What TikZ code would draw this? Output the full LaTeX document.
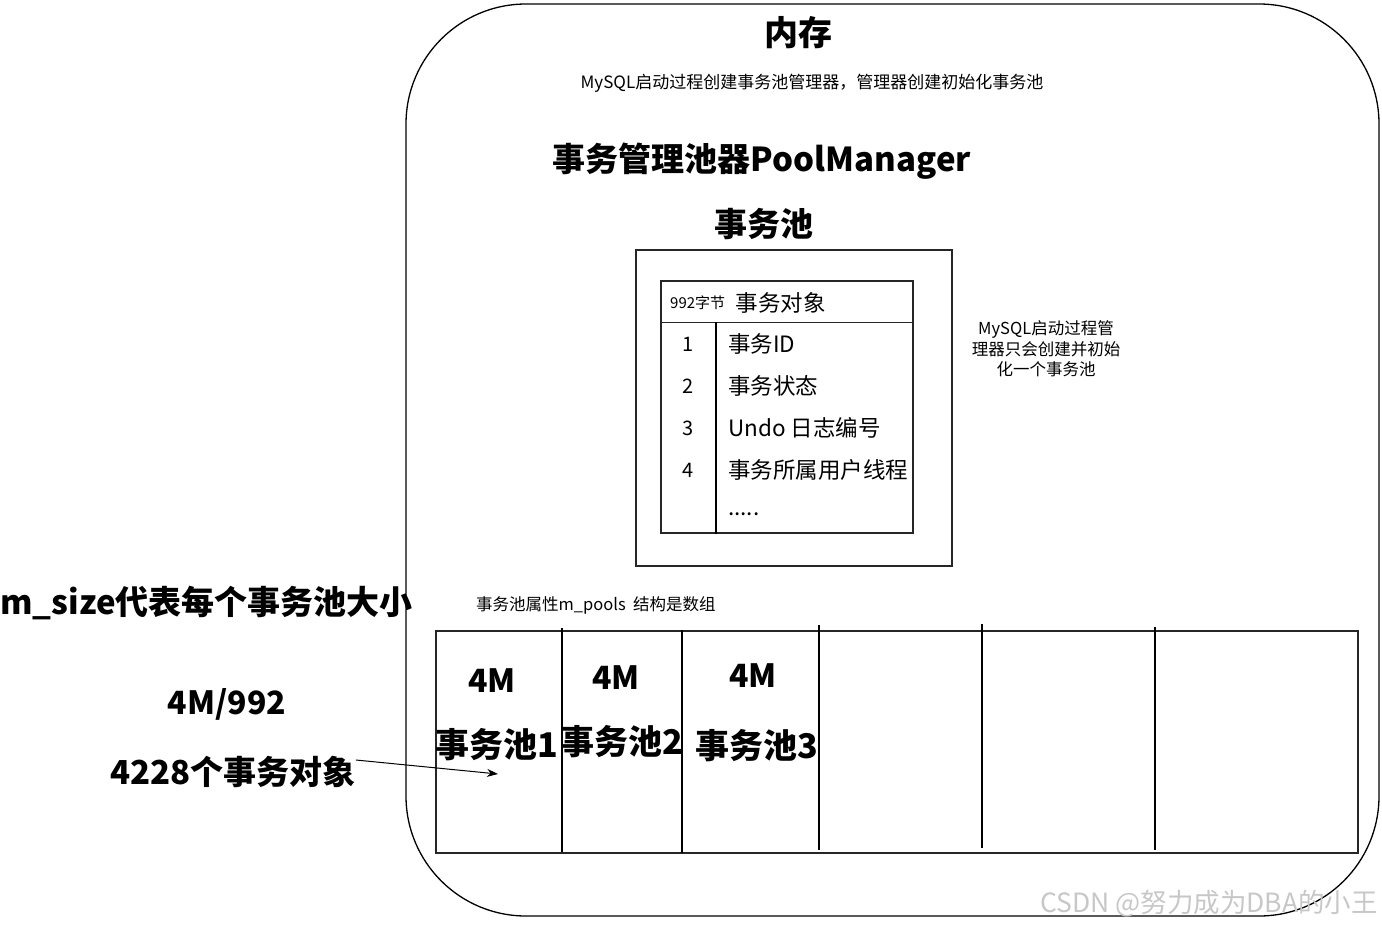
\documentclass[tikz,border=0pt]{standalone}
\usepackage{fontspec}
\setmainfont{Noto Sans CJK SC}
\usetikzlibrary{arrows.meta,positioning}

\begin{document}
\begin{tikzpicture}[
  x=1pt, y=-1pt,
  every node/.style={inner sep=0pt},
  frame/.style={draw=black!85, line width=1.3pt},
  head/.style={font=\fontsize{33}{38}\selectfont\bfseries},
  note/.style={font=\fontsize{16.5}{20}\selectfont, align=center},
  row/.style={font=\fontsize{22.5}{24}\selectfont, anchor=west},
  num/.style={font=\fontsize{20}{24}\selectfont},
  size/.style={font=\fontsize{32}{36}\selectfont\bfseries},
  poolname/.style={font=\fontsize{34}{38}\selectfont\bfseries},
  divider/.style={line width=2.6pt},
  arrow/.style={-{Stealth[length=11pt,width=8pt]}, line width=1pt}
]
\useasboundingbox (0,0) rectangle (1382,927);

% memory area
\node[frame, draw=black, rounded corners=120pt, minimum width=973pt, minimum height=912pt] (memory) at (892.5,460) {};
\node[head, font=\fontsize{34}{38}\selectfont\bfseries] (memtitle) at (798,33) {内存};
\node[note, font=\fontsize{17}{20}\selectfont] (startnote) at (812,83) {MySQL启动过程创建事务池管理器，管理器创建初始化事务池};
\node[head] (manager) at (762,161) {事务管理池器PoolManager};
\node[head] (pooltitle) at (764,224) {事务池};

% transaction pool with one object
\node[frame, minimum width=316pt, minimum height=316pt] (pool) at (794,408) {};
\node[frame, minimum width=252pt, minimum height=252pt] (objtable) at (787,407) {};
\draw[frame] ([yshift=-42pt]objtable.north west) -- ([yshift=-42pt]objtable.north east);
\draw[line width=1.8pt] ([xshift=56pt,yshift=-42pt]objtable.north west) -- ([xshift=56pt]objtable.south west);
\node[font=\fontsize{15}{18}\selectfont, anchor=west] (objsize) at (670,303) {992字节};
\node[row, right=10pt of objsize] (objhead) {事务对象};
\foreach \n/\y/\t in {1/344/事务ID, 2/386/事务状态, 3/428/Undo 日志编号, 4/470/事务所属用户线程} {
  \node[num] (num\n) at (688,\y) {\n};
  \node[row] (field\n) at (728,\y) {\t};
}
\node[row] (fieldmore) at (728,514) {.....};

\node[note, font=\fontsize{16.5}{20.5}\selectfont] (onlynote) at (1046,349) {MySQL启动过程管\\理器只会创建并初始\\化一个事务池};

% m_pools array
\node[note, anchor=west] (poolsnote) at (476,605) {事务池属性m\_pools\ \ 结构是数组};
\node[frame, minimum width=922pt, minimum height=222pt] (poolarray) at (897,742) {};
\foreach \x/\t/\b in {562/628/852, 682/630/853, 819/625/850, 982/624/848, 1155/627/850}
  \draw[divider] (\x,\t) -- (\x,\b);
\node[size] (size1) at (492,681) {4M};
\node[size] (size2) at (616,678) {4M};
\node[size] (size3) at (753,676) {4M};
\node[poolname] (pool1) at (497,745) {事务池1};
\node[poolname] (pool2) at (622,742) {事务池2};
\node[poolname] (pool3) at (757,746) {事务池3};

% left notes
\node[head, anchor=west] (msize) at (0,603) {m\_size代表每个事务池大小};
\node[size] (calc) at (227,704) {4M/992};
\node[head] (objcount) at (233,772) {4228个事务对象};
\coordinate (objtarget) at (498,774);
\draw[arrow] ([yshift=-4pt]objcount.north east) -- (objtarget);

\node[font=\fontsize{26.5}{28}\selectfont, text=black!22, anchor=east] (mark) at (1378,904) {CSDN @努力成为DBA的小王};
\end{tikzpicture}
\end{document}
